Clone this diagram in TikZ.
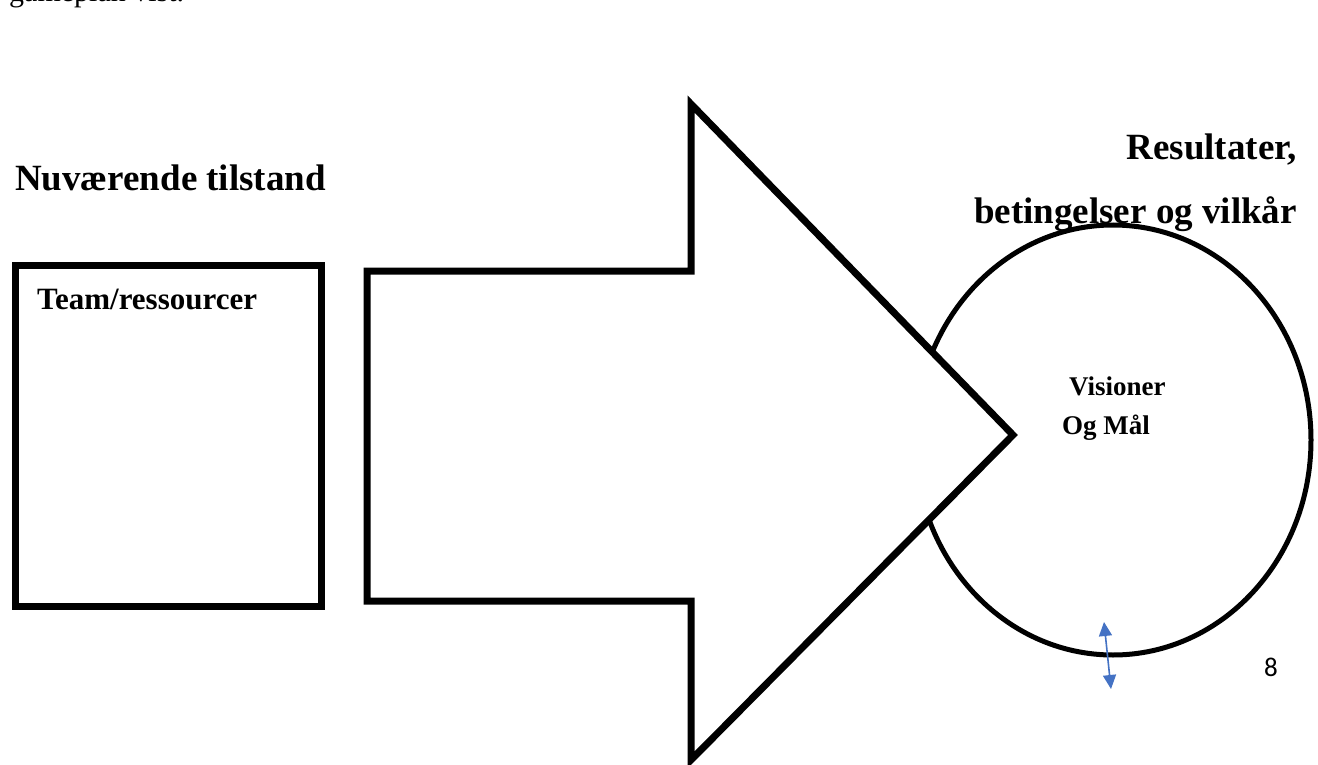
\documentclass[tikz,border=0pt]{standalone}
\usepackage{fontspec}
\setmainfont{Liberation Serif}
\newfontfamily\pagenumfont{Carlito}
\usetikzlibrary{arrows.meta}
\definecolor{msblue}{HTML}{4472C4}
\tikzset{
  thickline/.style={line width=7pt, line join=miter, black},
  circline/.style={line width=5pt, black},
  boldlabel/.style={inner sep=0pt, font=\bfseries},
  twoway/.style={msblue, line width=1.6pt, {Triangle[length=14pt,width=13pt]}-{Triangle[length=14pt,width=13pt]}}
}
\begin{document}
\begin{tikzpicture}[x=1pt,y=-1pt]
\clip (0,0) rectangle (1318,765);
\fill[white] (0,0) rectangle (1318,765);
% cut-off text at top
\node[inner sep=0pt, anchor=base west, font=\fontsize{30}{34}\selectfont] (top) at (9,1.5) {gameplan vist.};
% headings
\node[boldlabel, anchor=base east, font=\fontsize{37}{42}\bfseries\selectfont] (res1) at (1297,160) {Resultater,};
\node[boldlabel, anchor=base east, font=\fontsize{37}{42}\bfseries\selectfont] (res2) at (1297,223) {betingelser og vilkår};
\node[boldlabel, anchor=base west, font=\fontsize{37}{42}\bfseries\selectfont] (nuv) at (15,190) {Nuværende tilstand};
% left box
\draw[thickline] (15,265) rectangle (321.5,606);
\node[boldlabel, anchor=base west, font=\fontsize{31}{36}\bfseries\selectfont] (team) at (37,309) {Team/ressourcer};
% ellipse (behind arrow)
\coordinate (gc) at (1113,440);
\draw[circline] (gc) ellipse [x radius=198, y radius=215];
% big arrow
\coordinate (a1) at (367,271);
\coordinate (a2) at (691,271);
\coordinate (a3) at (691,104);
\coordinate (a4) at (1013,435);
\coordinate (a5) at (691,760);
\coordinate (a6) at (691,601);
\coordinate (a7) at (367,601);
\filldraw[thickline, fill=white] (a1) -- (a2) -- (a3) -- (a4) -- (a5) -- (a6) -- (a7) -- cycle;
% text in ellipse
\node[boldlabel, anchor=base west, font=\fontsize{27}{32}\bfseries\selectfont] (vis) at (1069,395) {Visioner};
\node[boldlabel, anchor=base west, font=\fontsize{27}{32}\bfseries\selectfont] (og) at (1062,434) {Og Mål};
% blue double arrow
\coordinate (b1) at (1104,622);
\coordinate (b2) at (1111,689);
\draw[twoway] (b1) -- (b2);
% page number
\node[inner sep=0pt, anchor=base west, font=\pagenumfont\fontsize{27}{32}\selectfont] (pg) at (1264,676) {8};
\end{tikzpicture}
\end{document}
